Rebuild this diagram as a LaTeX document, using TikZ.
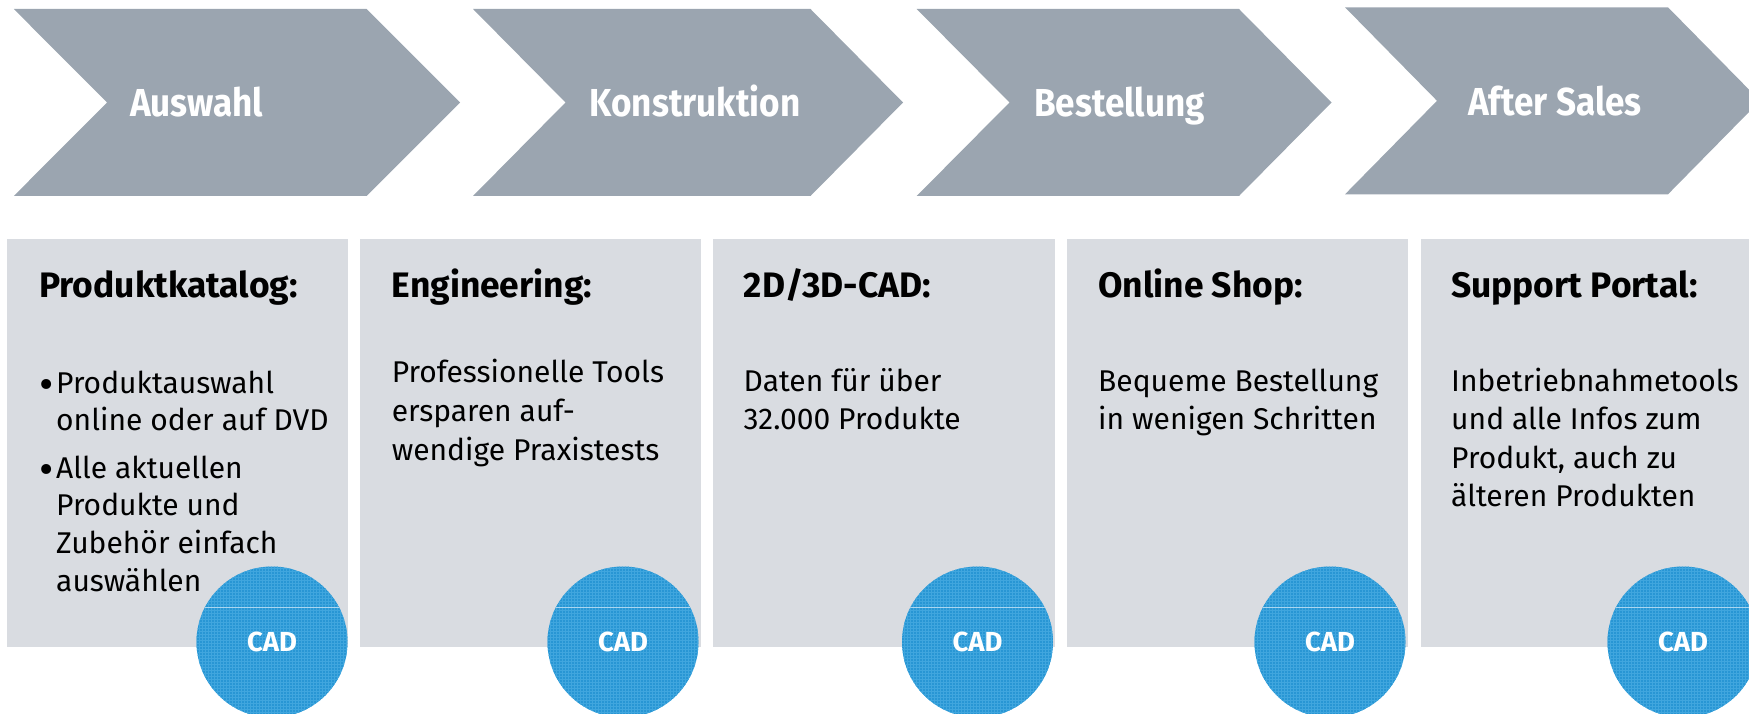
\documentclass[tikz,border=0pt]{standalone}
\usepackage{graphicx}
\usepackage{fontspec}
\setmainfont{Fira Sans}
\definecolor{chev}{RGB}{155,165,176}
\definecolor{boxc}{RGB}{217,220,225}
\definecolor{circc}{RGB}{40,150,212}
\definecolor{gridc}{RGB}{64,166,222}
\definecolor{chordc}{RGB}{170,214,240}
\newcommand\narrowtxt[1]{\scalebox{0.9}[1]{#1}}
\newcommand\bigbul{\makebox[17pt][l]{\fontsize{44}{38}\selectfont\raisebox{-6.5pt}{•}}}
\tikzset{
  chevron/.style={fill=chev, draw=none},
  panel/.style={fill=boxc, draw=none},
  chevlabel/.style={anchor=base west, inner sep=0pt, text=white, font=\fontsize{39}{47}\selectfont\bfseries},
  head/.style={anchor=base west, inner sep=0pt, font=\fontsize{35.4}{42}\selectfont\bfseries},
  body/.style={anchor=base west, inner sep=0pt, font=\fontsize{30}{38}\selectfont},
  cad/.style={circle, fill=circc, minimum size=151pt, inner sep=0pt, text=white,
    font=\fontsize{27.5}{30}\selectfont\bfseries,
    path picture={
      \draw[gridc, line width=0.7pt] ([xshift=-2pt,yshift=-2pt]path picture bounding box.south west) grid[step=3pt] ([xshift=2pt,yshift=2pt]path picture bounding box.north east);
      \draw[chordc, line width=1pt] ([yshift=35pt]path picture bounding box.west) -- ([yshift=35pt]path picture bounding box.east);
    }}
}
\begin{document}
\begin{tikzpicture}[x=1pt,y=-1pt]
\useasboundingbox (0,0) rectangle (1749,714);
% chevrons
\fill[chevron] (13.8,9) -- (366.6,9) -- (460,102.5) -- (366.6,196) -- (13.8,196) -- (107,102.5) -- cycle;
\fill[chevron] (473,9) -- (810.5,9) -- (903,102.5) -- (810.5,196) -- (473,196) -- (565.5,102.5) -- cycle;
\fill[chevron] (916.7,9) -- (1239,9) -- (1331.5,102.5) -- (1239,196) -- (916.7,196) -- (1009.5,102.5) -- cycle;
\fill[chevron] (1345,7.3) -- (1668,7.3) -- (1760,100.8) -- (1668,194.3) -- (1345,194.3) -- (1437,100.8) -- cycle;
\node[chevlabel] (l1) at (130,116.5) {\narrowtxt{Auswahl}};
\node[chevlabel] (l2) at (589.5,116.5) {\narrowtxt{Konstruktion}};
\node[chevlabel] (l3) at (1034,116.5) {\narrowtxt{Bestellung}};
\node[chevlabel] (l4) at (1468,116) {\narrowtxt{After Sales}};
% panels
\fill[panel] (6.9,239) rectangle (347.5,647.3);
\fill[panel] (360,239) rectangle (701,647.3);
\fill[panel] (713.4,239) rectangle (1054.5,647.3);
\fill[panel] (1067,239) rectangle (1407.7,647.3);
\fill[panel] (1421,239) rectangle (1760,647.3);
% headings
\node[head] (h1) at (39,297.7) {Produktkatalog:};
\node[head] (h2) at (391.6,297.7) {Engineering:};
\node[head] (h3) at (743.5,297.2) {2D/3D-CAD:};
\node[head] (h4) at (1098,297.2) {Online Shop:};
\node[head] (h5) at (1451,297.2) {Support Portal:};
% bodies
\node[body] (b1) at (39,393) {\vtop{\baselineskip=37.8pt
  \hbox{\bigbul Produktauswahl}
  \hbox{\hspace*{17pt}online oder auf DVD}
  \vskip 9.5pt
  \hbox{\bigbul Alle aktuellen}
  \hbox{\hspace*{17pt}Produkte und}
  \hbox{\hspace*{17pt}Zubehör einfach}
  \hbox{\hspace*{17pt}auswählen}}};
\node[body] (b2) at (391.6,382.5) {\vtop{\baselineskip=38.8pt
  \hbox{Professionelle Tools}
  \hbox{ersparen auf-}
  \hbox{wendige Praxistests}}};
\node[body] (b3) at (743.5,391.5) {\vtop{\baselineskip=37.7pt
  \hbox{Daten für über}
  \hbox{32.000 Produkte}}};
\node[body] (b4) at (1098,391.5) {\vtop{\baselineskip=38.3pt
  \hbox{Bequeme Bestellung}
  \hbox{in wenigen Schritten}}};
\node[body] (b5) at (1451,391.5) {\vtop{\baselineskip=38.3pt
  \hbox{Inbetriebnahmetools}
  \hbox{und alle Infos zum}
  \hbox{Produkt, auch zu}
  \hbox{älteren Produkten}}};
% CAD circles
\node[cad] (c1) at (272,642) {\raisebox{-2pt}{CAD}};
\node[cad] (c2) at (623,642) {\raisebox{-2pt}{CAD}};
\node[cad] (c3) at (977.5,642) {\raisebox{-2pt}{CAD}};
\node[cad] (c4) at (1330,642) {\raisebox{-2pt}{CAD}};
\node[cad] (c5) at (1683,642) {\raisebox{-2pt}{CAD}};
\end{tikzpicture}
\end{document}
